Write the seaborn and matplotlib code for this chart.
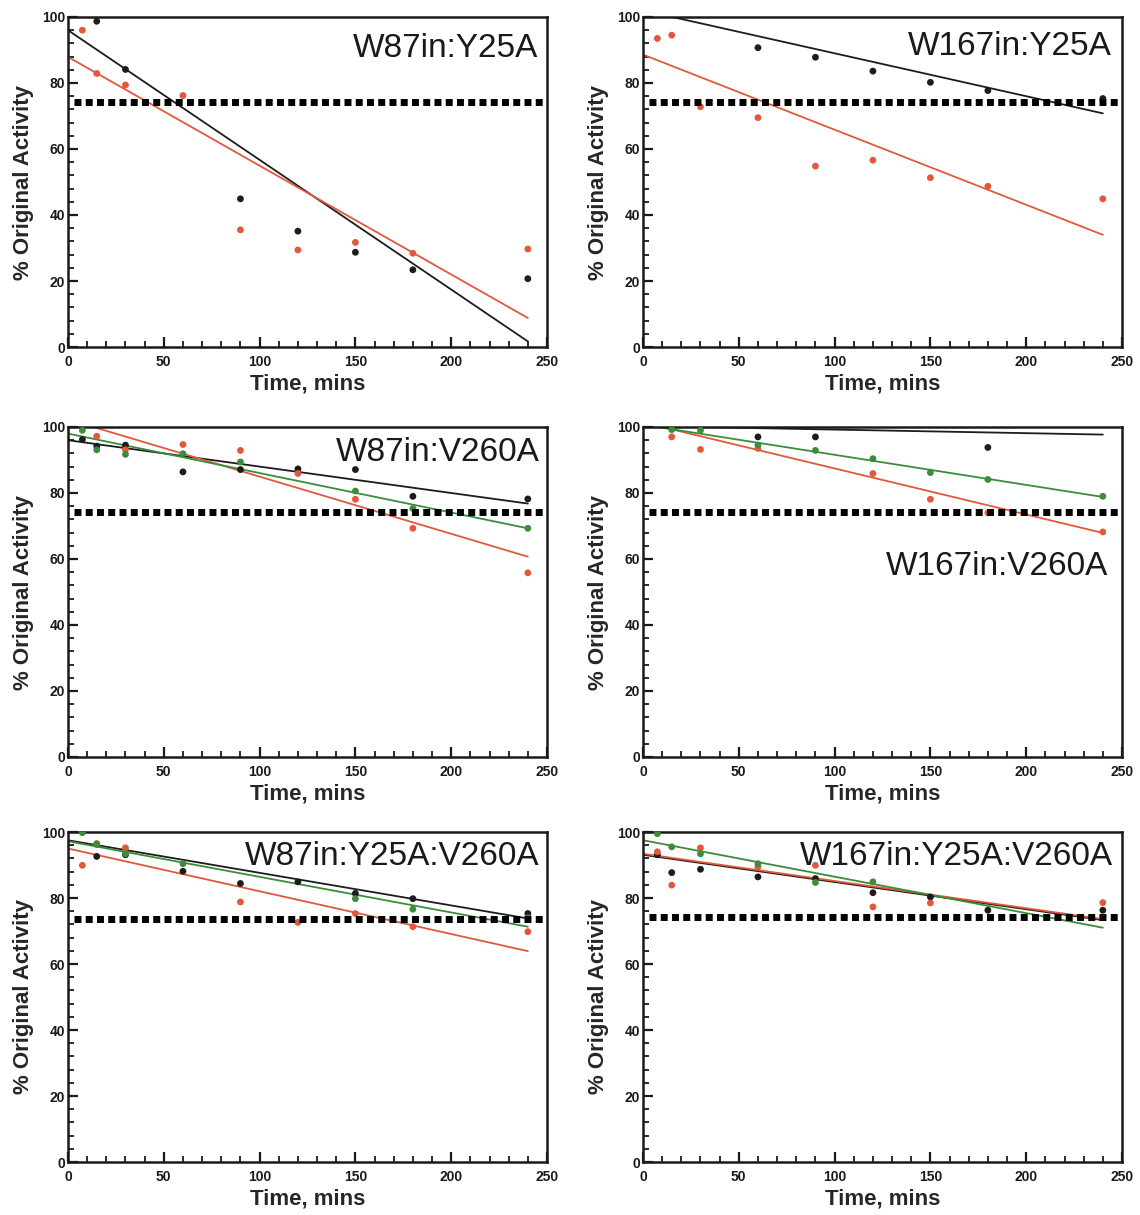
import numpy as np
import pandas as pd
import matplotlib
matplotlib.use("Agg")
import matplotlib.pyplot as plt
import seaborn as sns
from matplotlib.ticker import MultipleLocator

N = np.nan
times = [7.5, 15, 30, 60, 90, 120, 150, 180, 240]
fit_x = [0, 240]

titles = ["W87in:Y25A", "W167in:Y25A", "W87in:V260A",
          "W167in:V260A", "W87in:Y25A:V260A", "W167in:Y25A:V260A"]
thresholds = [74.3, 74.3, 74.3, 74.3, 73.5, 74.3]

# Panel 1 : W87in:Y25A
p1_black = [N, 98.7, 84.1, N, 44.9, 35.1, 28.7, 23.4, 20.7]
p1_red = [96.0, 82.9, 79.4, 76.2, 35.5, 29.4, 31.7, 28.4, 29.7]
p1_black_fit = [96.0, 1.7]
p1_red_fit = [87.9, 8.8]

# Panel 2 : W167in:Y25A
p2_black = [N, N, N, 90.7, 87.8, 83.6, 80.2, 77.7, 75.3]
p2_red = [93.5, 94.5, 72.8, 69.5, 54.8, 56.6, 51.3, 48.7, 44.9]
p2_black_fit = [102.0, 70.8]
p2_red_fit = [88.6, 34.0]

# Panel 3 : W87in:V260A
p3_black = [96.2, 94.2, 94.5, 86.4, 87.1, 87.3, 87.1, 79.0, 78.2]
p3_red = [N, 97.2, 93.1, 94.7, 92.9, 85.9, 78.1, 69.3, 55.8]
p3_green = [99.0, 93.1, 91.7, 91.9, 89.4, N, 80.6, 75.3, 69.3]
p3_black_fit = [96.0, 76.8]
p3_red_fit = [102.3, 60.7]
p3_green_fit = [98.0, 69.3]

# Panel 4 : W167in:V260A
p4_black = [N, N, N, 97.0, 97.0, N, N, 93.8, N]
p4_red = [N, 97.0, 93.2, 93.5, N, 85.9, 78.1, 74.0, 68.2]
p4_green = [N, 99.2, 99.0, 94.5, 92.9, 90.4, 86.2, 84.1, 79.0]
p4_black_fit = [100.3, 97.7]
p4_red_fit = [101.4, 67.9]
p4_green_fit = [100.7, 78.8]

# Panel 5 : W87in:Y25A:V260A
p5_black = [N, 92.6, 93.1, 88.1, 84.4, 84.9, 81.4, 79.8, 75.3]
p5_red = [89.9, 96.5, 95.2, N, 78.8, 72.6, 75.3, 71.3, 69.8]
p5_green = [99.8, 96.2, 93.4, 90.4, N, N, 79.8, 76.6, 74.0]
p5_black_fit = [97.5, 73.8]
p5_red_fit = [95.0, 63.9]
p5_green_fit = [97.2, 71.3]

# Panel 6 : W167in:Y25A:V260A
p6_black = [93.1, 87.7, 88.7, 86.4, 85.9, 81.6, 80.3, 76.3, 76.3]
p6_red = [94.0, 83.9, 95.2, 89.4, 89.9, 77.3, 78.5, N, 78.6]
p6_green = [99.5, 95.5, 93.4, 90.4, 84.7, 84.9, N, N, 74.3]
p6_black_fit = [93.1, 73.3]
p6_red_fit = [93.4, 73.6]
p6_green_fit = [97.5, 71.0]

panels = [
    {"black": (p1_black, p1_black_fit), "red": (p1_red, p1_red_fit)},
    {"black": (p2_black, p2_black_fit), "red": (p2_red, p2_red_fit)},
    {"black": (p3_black, p3_black_fit), "red": (p3_red, p3_red_fit), "green": (p3_green, p3_green_fit)},
    {"black": (p4_black, p4_black_fit), "red": (p4_red, p4_red_fit), "green": (p4_green, p4_green_fit)},
    {"black": (p5_black, p5_black_fit), "red": (p5_red, p5_red_fit), "green": (p5_green, p5_green_fit)},
    {"black": (p6_black, p6_black_fit), "red": (p6_red, p6_red_fit), "green": (p6_green, p6_green_fit)},
]

palette = {"black": "#1c1c1c", "red": "#e2583c", "green": "#3c8c3c"}
title_pos = [(0.981, 0.879), (0.979, 0.885), (0.985, 0.897),
             (0.971, 0.552), (0.985, 0.900), (0.981, 0.900)]

sns.set_theme(style="ticks")
plt.rcParams["font.family"] = ["Liberation Sans", "DejaVu Sans"]

W, H = 1140, 1215
fig = plt.figure(figsize=(W / 100, H / 100), dpi=100)
lefts = [68, 643]
tops = [17, 427, 832]
aw, ah = 479, 330

for i, pdata in enumerate(panels):
    r, c = divmod(i, 2)
    ax = fig.add_axes([lefts[c] / W, 1 - (tops[r] + ah) / H, aw / W, ah / H])

    pts = []
    fits = []
    for name, (vals, fit) in pdata.items():
        for t, v in zip(times, vals):
            if not np.isnan(v):
                pts.append({"t": t, "v": v, "series": name})
        for t, v in zip(fit_x, fit):
            fits.append({"t": t, "v": v, "series": name})
    pts = pd.DataFrame(pts)
    fits = pd.DataFrame(fits)
    order = list(pdata.keys())

    sns.lineplot(data=fits, x="t", y="v", hue="series", hue_order=order,
                 palette=palette, legend=False, ax=ax, linewidth=1.3, zorder=2)
    sns.scatterplot(data=pts, x="t", y="v", hue="series", hue_order=order,
                    palette=palette, legend=False, ax=ax, s=24,
                    edgecolor="none", zorder=3)
    ax.plot([3, 250], [thresholds[i], thresholds[i]], color="black",
            linewidth=5, linestyle=(0, (1, 0.62)), solid_capstyle="butt",
            dash_capstyle="butt", zorder=4)

    ax.set_xlim(0, 250)
    ax.set_ylim(0, 100)
    ax.xaxis.set_major_locator(MultipleLocator(50))
    ax.xaxis.set_minor_locator(MultipleLocator(10))
    ax.yaxis.set_major_locator(MultipleLocator(20))
    ax.yaxis.set_minor_locator(MultipleLocator(4))
    ax.tick_params(which="both", direction="in", top=False, right=False,
                   colors="#1a1a1a")
    ax.tick_params(which="major", length=7, width=1.6)
    ax.tick_params(which="minor", length=4, width=1.3)
    ax.tick_params(axis="x", which="major", pad=6)
    ax.tick_params(axis="y", which="major", pad=2)
    for lab in ax.get_xticklabels() + ax.get_yticklabels():
        lab.set_fontweight("bold")
        lab.set_fontsize(10)
    for sp in ax.spines.values():
        sp.set_visible(True)
        sp.set_linewidth(1.8)
        sp.set_color("#1a1a1a")

    ax.set_xlabel("Time, mins", fontsize=16, fontweight="bold", labelpad=3)
    ax.set_ylabel("% Original Activity", fontsize=16, fontweight="bold",
                  labelpad=6)
    tx, ty = title_pos[i]
    ax.text(tx, ty, titles[i], transform=ax.transAxes, ha="right",
            va="baseline", fontsize=24, color="#1a1a1a", zorder=5)

fig.savefig("out.png", dpi=100)
